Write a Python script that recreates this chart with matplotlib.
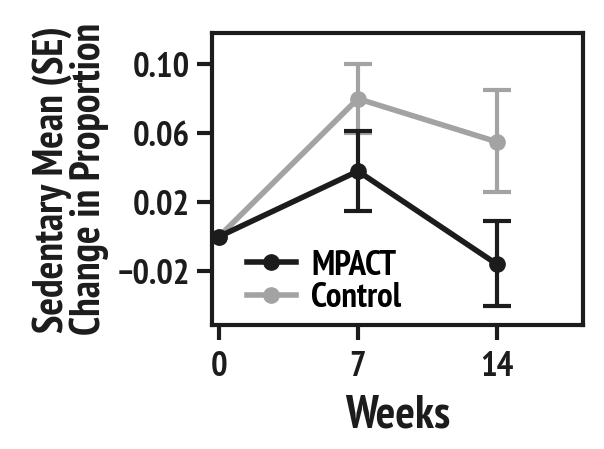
import matplotlib
matplotlib.use("Agg")
import matplotlib.pyplot as plt

plt.rcParams['font.family'] = ['PT Sans Narrow', 'DejaVu Sans']
plt.rcParams['font.weight'] = 'bold'
plt.rcParams['axes.labelweight'] = 'bold'
plt.rcParams['axes.unicode_minus'] = True

# data
weeks = [0, 7, 14]
mpact = [0.0, 0.038, -0.016]
mpact_lo = [0.0, 0.015, -0.040]
mpact_hi = [0.0, 0.061, 0.009]
control = [0.0, 0.080, 0.055]
control_lo = [0.0, 0.060, 0.026]
control_hi = [0.0, 0.100, 0.085]

yticks = [-0.02, 0.02, 0.06, 0.10]
ytick_labels = ['\u22120.02', '0.02', '0.06', '0.10']

black = '#1c1c1c'
grey = '#a3a3a3'

fig = plt.figure(figsize=(6.04, 4.49), dpi=100)
ax = fig.add_axes([0.351, 0.276, 0.614, 0.650])

def err(m, lo, hi):
    return [[a - b for a, b in zip(m, lo)], [c - a for a, c in zip(m, hi)]]

ax.errorbar(weeks[1:], control[1:], yerr=[e[1:] for e in err(control, control_lo, control_hi)],
            fmt='none', ecolor=grey, elinewidth=3, capsize=10, capthick=3)
ax.plot(weeks, control, '-o', color=grey, lw=4, ms=11, label='Control')
ax.errorbar(weeks[1:], mpact[1:], yerr=[e[1:] for e in err(mpact, mpact_lo, mpact_hi)],
            fmt='none', ecolor=black, elinewidth=3, capsize=10, capthick=3)
ax.plot(weeks, mpact, '-o', color=black, lw=4, ms=11, label='MPACT')

ax.set_xlim(-0.35, 18.33)
ax.set_ylim(-0.0513, 0.118)
ax.set_xticks(weeks)
ax.set_yticks(yticks)
ax.set_yticklabels(ytick_labels)
ax.tick_params(labelsize=25, width=3, length=11, color=black, labelcolor=black)
ax.tick_params(axis='x', pad=8)
ax.tick_params(axis='y', pad=5)
for lab in ax.get_xticklabels() + ax.get_yticklabels():
    lab.set_fontweight('bold')
for s in ax.spines.values():
    s.set_linewidth(3)
    s.set_color(black)

ax.set_xlabel('Weeks', fontsize=33, fontweight='bold', color=black, labelpad=8)
ax.set_ylabel('Sedentary Mean (SE)\nChange in Proportion', fontsize=30, fontweight='bold',
              color=black, linespacing=0.92, labelpad=6)

h, l = ax.get_legend_handles_labels()
leg = ax.legend(h[::-1], l[::-1], loc='lower left', frameon=False,
                prop={'size': 25, 'weight': 'bold'},
                handlelength=1.4, handletextpad=0.45, labelspacing=0.02,
                bbox_to_anchor=(0.01, -0.07))

fig.savefig('out.png', dpi=100)
